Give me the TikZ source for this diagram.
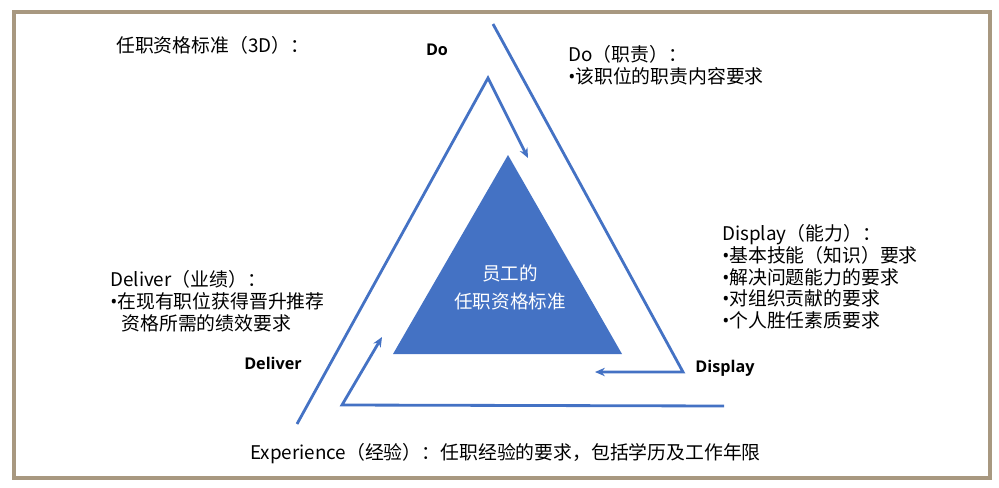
\documentclass[tikz,border=0pt]{standalone}
\usepackage{fontspec}
\setmainfont{Noto Sans CJK SC}
\newfontfamily\keyfont{Open Sans}
\usetikzlibrary{arrows.meta}
\definecolor{lineblue}{HTML}{4472C4}
\definecolor{framebrown}{HTML}{A89880}
\newcommand{\itembul}{{\keyfont •}}

\begin{document}
\begin{tikzpicture}[x=0.025cm, y=-0.025cm,
  flow/.style={draw=lineblue, line width=2pt},
  flowarrow/.style={flow, -{Stealth[length=7pt, width=6pt]}},
  desc/.style={font=\fontsize{13.4}{15.5}\selectfont, inner sep=0pt, align=left, anchor=north west},
  keyword/.style={font=\keyfont\bfseries\fontsize{11.5}{13}\selectfont, inner sep=0pt}]
  \useasboundingbox (0,0) rectangle (999,487);
  \draw[framebrown, line width=2.2pt] (14,12) rectangle (990,478);

  % Core triangle
  \fill[lineblue] (508,155) -- (393,354) -- (622,354) -- cycle;
  \node[font=\fontsize{13.2}{20}\selectfont, text=white, align=center, inner sep=0pt] (core) at (510,287) {员工的\\任职资格标准};

  % Nodes
  \node[desc] (title) at (116,36) {任职资格标准（3D）：};
  \node[keyword] (do) at (437,50) {Do};
  \node[keyword] (deliver) at (273,363) {Deliver};
  \node[keyword] (display) at (725,368) {Display};
  \node[desc] (dotext) at (568,45) {Do（职责）：\\\itembul 该职位的职责内容要求};
  \node[desc] (displaytext) at (722,224) {Display（能力）：\\\itembul 基本技能（知识）要求\\\itembul 解决问题能力的要求\\\itembul 对组织贡献的要求\\\itembul 个人胜任素质要求};
  \node[desc] (delivertext) at (110,270) {Deliver（业绩）：\\\itembul 在现有职位获得晋升推荐\\\phantom{\itembul} 资格所需的绩效要求};
  \node[desc, anchor=west] (exptext) at (250,454) {Experience（经验）：任职经验的要求，包括学历及工作年限};

  % Corner points
  \coordinate (dl0) at (297,424);
  \coordinate (apex) at (488,78);
  \coordinate (do1) at (528,158);
  \coordinate (ds0) at (493,24);
  \coordinate (ds1) at (683,372);
  \coordinate (ds2) at (595,372);
  \coordinate (ex0) at (724,406);
  \coordinate (ex1) at (342,405);
  \coordinate (ex2) at (382,337);

  % Edges
  \draw[flowarrow] (dl0) -- (apex) -- (do1);
  \draw[flowarrow] (ds0) -- (ds1) -- (ds2);
  \draw[flowarrow] (ex0) -- (ex1) -- (ex2);
\end{tikzpicture}
\end{document}
